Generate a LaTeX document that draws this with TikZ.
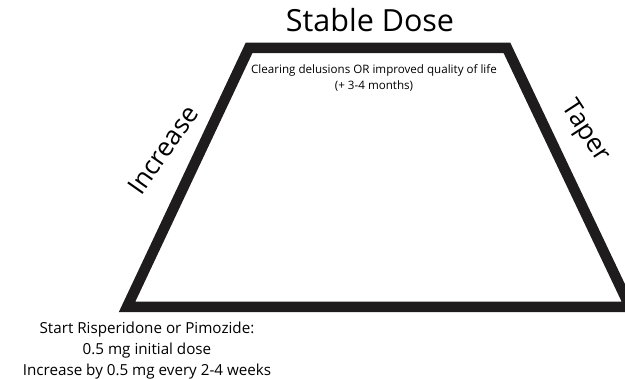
\documentclass[tikz,border=0pt]{standalone}
\usepackage{fontspec}
\setmainfont{Open Sans}
\usepackage{tikz}

\tikzset{
  label text/.style={inner sep=0pt, align=center, text=black}
}

\begin{document}
\begin{tikzpicture}[x=1pt,y=1pt,yscale=-1]
\useasboundingbox (0,0) rectangle (625,379);
\clip (0,0) rectangle (625,379);

%Trapezoid corners
\coordinate (topleft) at (249,48);
\coordinate (topright) at (507,48);
\coordinate (botright) at (630,307);
\coordinate (botleft) at (127,307);

%Trapezoid
\draw [line width=10.5pt, line join=miter, color={rgb, 255:red, 30; green, 28; blue, 28}]
  (topleft) -- (topright) -- (botright) -- (botleft) -- cycle;

% Text Node
\node (stable) at (370,20) [label text, font=\fontsize{30.5}{34}\selectfont] {Stable Dose};
% Text Node
\node (goal) at (374,70) [label text, font=\fontsize{11.6}{14}\selectfont] {Clearing delusions OR improved quality of life};
% Text Node
\node (months) at (374,86) [label text, font=\fontsize{11.6}{14}\selectfont] {(+ 3-4 months)};
% Text Node
\node (increase) at (163,150) [label text, rotate=55, font=\fontsize{26}{30}\selectfont] {Increase};
% Text Node
\node (taper) at (585,132) [label text, rotate=-57, font=\fontsize{26}{30}\selectfont] {Taper};
% Text Node
\node (start) at (147,351) [label text, font=\fontsize{15.2}{21}\selectfont] {Start Risperidone or Pimozide:\\0.5 mg initial dose\\Increase by 0.5 mg every 2-4 weeks};

\end{tikzpicture}
\end{document}
